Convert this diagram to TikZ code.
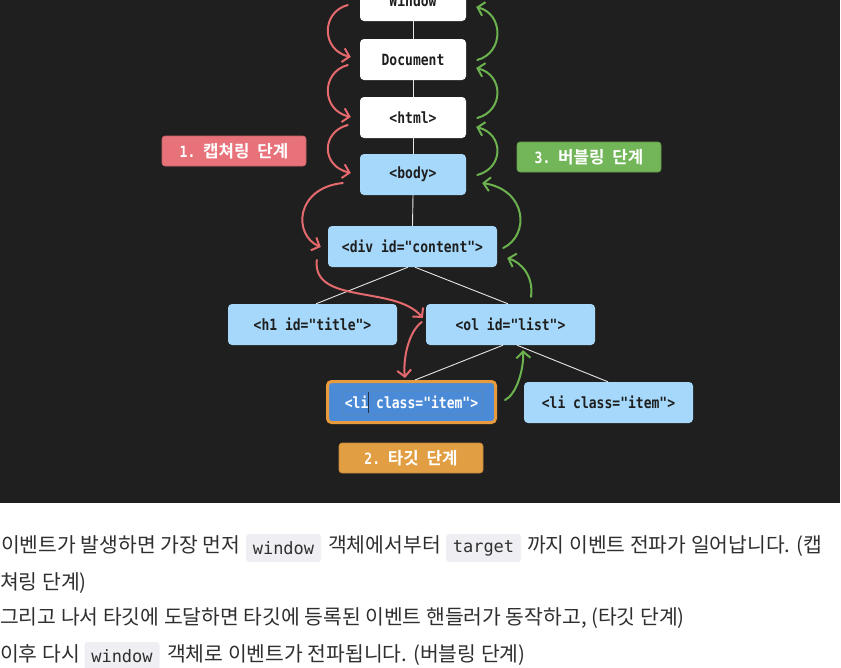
\documentclass[tikz,border=0pt]{standalone}
\usepackage{fontspec}
\usetikzlibrary{arrows.meta,calc}
\newfontfamily\kr{Noto Sans CJK KR}
\newfontfamily\krb{Noto Sans CJK KR Bold}
\newfontfamily\monob{DejaVu Sans Mono Bold}[FakeStretch=0.84]
\newfontfamily\mono{DejaVu Sans Mono}
\definecolor{bg}{HTML}{1F1F1F}
\definecolor{lblue}{HTML}{A5D8FA}
\definecolor{tblue}{HTML}{4A8AD6}
\definecolor{torange}{HTML}{E89B3E}
\definecolor{cred}{HTML}{E46A6E}
\definecolor{cgreen}{HTML}{6CB24E}
\definecolor{lred}{HTML}{E8727A}
\definecolor{lgreen}{HTML}{73B65A}
\definecolor{lorange}{HTML}{E29E42}
\definecolor{ink}{HTML}{1E1E1E}
\definecolor{bodytext}{HTML}{2F2F2F}
\definecolor{codebg}{HTML}{EFEFF3}
\definecolor{treeline}{HTML}{E6E6E6}
\tikzset{
  dom/.style={rounded corners=4pt, minimum width=106pt, minimum height=41pt, inner sep=0pt,
    font=\monob\fontsize{15.5}{18}\selectfont, text=ink},
  whitebox/.style={dom, fill=white},
  bluebox/.style={dom, fill=lblue, minimum width=169pt},
  targetbox/.style={dom, fill=tblue, draw=torange, line width=3pt, minimum width=168pt, text=white},
  phase/.style={rounded corners=3pt, minimum width=144pt, minimum height=30pt, inner sep=0pt, text=white},
  tree/.style={draw=treeline, line width=0.9pt},
  caparrow/.style={draw=cred, line width=2pt, line cap=round, -{Straight Barb[length=6.5pt,width=14pt]}},
  bubarrow/.style={draw=cgreen, line width=2pt, line cap=round, -{Straight Barb[length=6.5pt,width=14pt]}},
  para/.style={anchor=base west, inner sep=0pt, text=bodytext, font=\kr\fontsize{20.4}{24}\selectfont},
  code/.style={rounded corners=3pt, fill=codebg, minimum width=75pt, minimum height=28pt, inner sep=0pt,
    text=bodytext, font=\mono\fontsize{17}{20}\selectfont}
}
\newcommand{\lblmono}{\monob\fontsize{15.5}{18}\selectfont}
\newcommand{\lblkr}{\krb\fontsize{16.8}{19}\selectfont}
\begin{document}
\begin{tikzpicture}[x=1pt,y=-1pt]
\useasboundingbox (0,0) rectangle (841,667);
\clip (0,0) rectangle (841,667);
\fill[bg] (0,0) rectangle (840,503);

% DOM nodes
\node[whitebox] (win) at (413,0.5) {Window};
\node[whitebox] (doc) at (413,59.5) {Document};
\node[whitebox] (html) at (413,117.5) {<html>};
\node[bluebox, minimum width=106pt] (body) at (413,174.5) {<body>};
\node[bluebox] (div) at (412.5,246.5) {<div id="content">};
\node[bluebox] (h1) at (312.5,324.5) {<h1 id="title">};
\node[bluebox] (ol) at (510.5,324.5) {<ol id="list">};
\node[targetbox] (li) at (411.5,402) {<li class="item">};
\node[bluebox] (li2) at (608.5,402.5) {<li class="item">};

% text-box artefacts inside target
\draw[draw=tblue!75!gray, line width=0.5pt] (342,391) rectangle (482,414);
\draw[draw=ink!80!tblue, line width=0.8pt] (368,392) -- (368,413);

% tree lines
\draw[tree] (win.south) -- (doc.north);
\draw[tree] (doc.south) -- (html.north);
\draw[tree] (html.south) -- (body.north);
\draw[tree] (body.south) -- (div.north);
\draw[tree] ([xshift=-4.5pt]div.south) -- ([xshift=3.5pt]h1.north);
\draw[tree] ([xshift=2.5pt]div.south) -- ([xshift=-2.5pt]ol.north);
\draw[tree] ([xshift=-7.5pt]ol.south) -- ([xshift=3.5pt]li.north);
\draw[tree] ([xshift=6.5pt]ol.south) -- ([xshift=-0.5pt]li2.north);

% phase labels
\node[phase, fill=lred, draw=lred!85!black, line width=0.6pt] (cap) at (234,151)
  {{\lblmono 1.\ }{\lblkr 캡쳐링}{\lblmono\ }{\lblkr 단계}};
\node[phase, fill=lgreen, draw=lgreen!85!black, line width=0.6pt] (bub) at (589,157)
  {{\lblmono 3.\ }{\lblkr 버블링}{\lblmono\ }{\lblkr 단계}};
\node[phase, fill=lorange, draw=lorange!85!black, line width=0.6pt] (tgt) at (411,458)
  {{\lblmono 2.\ }{\lblkr 타깃}{\lblmono\ }{\lblkr 단계}};

% capturing arrows
\draw[caparrow] ([shift={(-12,4.5)}]win.west) .. controls (321,12) and (321,50) .. ([shift={(-9,-2.5)}]doc.west);
\draw[caparrow] ([shift={(-12,5.5)}]doc.west) .. controls (321,72) and (321,110) .. ([shift={(-9,-0.5)}]html.west);
\draw[caparrow] ([shift={(-12,7.5)}]html.west) .. controls (321,132) and (321,166) .. ([shift={(-9,-1.5)}]body.west);
\draw[caparrow] ([shift={(-17,8.5)}]body.west) .. controls (295,188) and (293,235) .. ([shift={(-7,0.5)}]div.west);
\draw[caparrow] ([shift={(-11,13.5)}]div.west) .. controls (312,305) and (395,285) .. ([shift={(-3,-6.5)}]ol.west);
\draw[caparrow] ([shift={(-4,-2.5)}]ol.west) .. controls (408,332) and (403,360) .. ([shift={(-6.5,-2)}]li.north);

% bubbling arrows
\draw[bubarrow] ([shift={(8,-2)}]li.east) .. controls (516,395) and (524,370) .. ([shift={(12.5,5)}]ol.south);
\draw[bubarrow] ([shift={(20.5,-7)}]ol.north) .. controls (534,275) and (520,262) .. ([shift={(10,11.5)}]div.east);
\draw[bubarrow] ([shift={(6,1.5)}]div.east) .. controls (530,235) and (527,190) .. ([shift={(16,8.5)}]body.east);
\draw[bubarrow] ([shift={(11,0.5)}]body.east) .. controls (504,168) and (504,134) .. ([shift={(10,9.5)}]html.east);
\draw[bubarrow] ([shift={(11,0.5)}]html.east) .. controls (504,111) and (504,75) .. ([shift={(10,8.5)}]doc.east);
\draw[bubarrow] ([shift={(11,0.5)}]doc.east) .. controls (504,53) and (504,14) .. ([shift={(10,6.5)}]win.east);

% paragraph below
\node[code] (c1) at (283.5,548) {window};
\node[code] (c2) at (483.5,548) {target};
\node[code] (c3) at (122,656) {window};
\node[para] (l1a) at (1,552) {이벤트가 발생하면 가장 먼저};
\node[para] (l1b) at (328,552) {객체에서부터};
\node[para] (l1c) at (527,552) {까지 이벤트 전파가 일어납니다. (캡};
\node[para] (l2) at (0,589) {쳐링 단계)};
\node[para] (l3) at (0,624) {그리고 나서 타깃에 도달하면 타깃에 등록된 이벤트 핸들러가 동작하고, (타깃 단계)};
\node[para] (l4a) at (0,661) {이후 다시};
\node[para] (l4b) at (167,661) {객체로 이벤트가 전파됩니다. (버블링 단계)};
\end{tikzpicture}
\end{document}
